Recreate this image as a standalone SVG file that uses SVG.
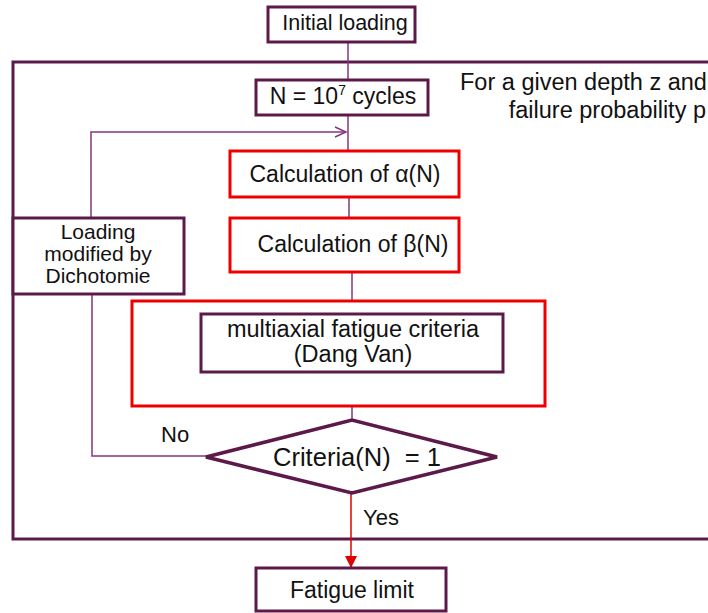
<svg xmlns="http://www.w3.org/2000/svg" width="708" height="613" viewBox="0 0 708 613">
<style>
text{font-family:"Liberation Sans",Arial,sans-serif;font-size:23px;fill:#111}
.c{text-anchor:middle}
.sm{font-size:21px}
.box{fill:#fff;stroke:#5c1a4a;stroke-width:3}
.red{fill:#fff;stroke:#ee0000;stroke-width:3}
.ln{fill:none;stroke:#84377a;stroke-width:1.5}
.rl{fill:none;stroke:#e00000;stroke-width:1.5}
</style>
<defs>
<marker id="open" markerWidth="14" markerHeight="12" refX="12" refY="6" orient="auto" markerUnits="userSpaceOnUse">
<path d="M1,1 L12,6 L1,11" fill="none" stroke="#84377a" stroke-width="1.5"/>
</marker>
<marker id="tri" markerWidth="12" markerHeight="14" refX="11" refY="6" orient="auto" markerUnits="userSpaceOnUse">
<path d="M0,0 L12,6 L0,12 z" fill="#e00000"/>
</marker>
</defs>
<rect id="frame" x="13" y="62" width="720" height="477" fill="none" stroke="#5c1a4a" stroke-width="3"/>
<g id="connectors">
<line class="ln" x1="348" y1="42" x2="348" y2="80"/>
<line class="ln" x1="348" y1="115" x2="348" y2="151"/>
<line class="ln" x1="349" y1="197" x2="349" y2="218"/>
<line class="ln" x1="352" y1="272" x2="352" y2="314"/>
<line class="ln" x1="352" y1="372" x2="352" y2="420"/>
<polyline class="ln" points="206,456 92,456 92,294"/>
<polyline class="ln" points="91,218 91,132 346,132" marker-end="url(#open)"/>
<line class="rl" x1="351" y1="493" x2="351" y2="567" marker-end="url(#tri)"/>
</g>
<g id="note">
<text x="460" y="90" style="font-size:23.5px">For a given depth z and</text>
<text x="706" y="118" text-anchor="end" style="font-size:23.5px">failure probability p</text>
</g>
<g id="initial">
<rect class="box" x="268" y="7" width="147" height="35"/>
<text class="c" x="345" y="30" style="font-size:21.5px">Initial loading</text>
</g>
<g id="ncycles">
<rect class="box" x="256" y="80" width="172" height="35"/>
<text class="c" x="343" y="104">N = 10<tspan font-size="14" dy="-9">7</tspan><tspan dy="9"> cycles</tspan></text>
</g>
<g id="alpha">
<rect class="red" x="230" y="151" width="229" height="46"/>
<text class="c" x="345" y="182">Calculation of α(N)</text>
</g>
<g id="beta">
<rect class="red" x="230" y="218" width="229" height="54"/>
<text class="c" x="353" y="252">Calculation of β(N)</text>
</g>
<g id="dichotomie">
<rect class="box" x="13" y="218" width="171" height="76"/>
<text class="c sm" x="98" y="239">Loading</text>
<text class="c sm" x="98" y="261">modified by</text>
<text class="c sm" x="98" y="283">Dichotomie</text>
</g>
<g id="redframe">
<rect class="red" x="132" y="301" width="413" height="105" fill="none"/>
</g>
<g id="criteria">
<rect class="box" x="201" y="314" width="302" height="58"/>
<text class="c" x="353" y="337" style="font-size:23.5px">multiaxial fatigue criteria</text>
<text class="c" x="353" y="362" style="font-size:23.5px">(Dang Van)</text>
</g>
<g id="decision">
<polygon points="206,457 352,420 497,457 352,493" fill="#fff" stroke="#5c1a4a" stroke-width="3.5"/>
<text class="c" x="357" y="466" style="font-size:25.5px;white-space:pre" xml:space="preserve">Criteria(N)  = 1</text>
</g>
<text x="161" y="442" style="font-size:22px">No</text>
<text x="363" y="525" style="font-size:22px">Yes</text>
<g id="fatigue">
<rect class="box" x="256" y="568" width="190" height="43"/>
<text class="c" x="352" y="598">Fatigue limit</text>
</g>
</svg>
